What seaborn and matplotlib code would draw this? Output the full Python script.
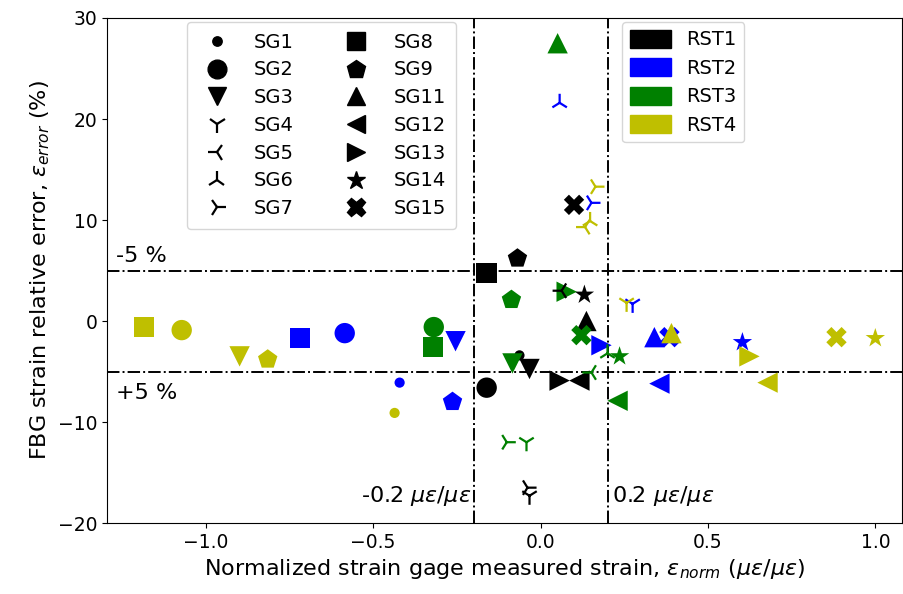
import matplotlib
matplotlib.use("Agg")
import matplotlib.pyplot as plt
from matplotlib.lines import Line2D
from matplotlib.patches import Patch
import seaborn as sns
import pandas as pd

plt.rcParams["font.family"] = ["DejaVu Sans"]
plt.rcParams["mathtext.fontset"] = "dejavusans"

# ---- data ----
rst1_sg = ["SG1", "SG2", "SG3", "SG4", "SG5", "SG7", "SG8", "SG9", "SG11", "SG12", "SG13", "SG14", "SG15"]
rst1_x = [-0.063, -0.161, -0.033, -0.033, 0.063, -0.039, -0.161, -0.069, 0.137, 0.116, 0.057, 0.131, 0.100]
rst1_y = [-3.4, -6.6, -4.75, -17.3, 3.0, -16.5, 4.75, 6.2, 0.0, -5.9, -5.9, 2.6, 11.5]

rst2_sg = ["SG1", "SG2", "SG3", "SG4", "SG6", "SG7", "SG8", "SG9", "SG11", "SG12", "SG13", "SG14", "SG15"]
rst2_x = [-0.421, -0.585, -0.254, 0.275, 0.057, 0.152, -0.719, -0.263, 0.340, 0.355, 0.182, 0.603, 0.385]
rst2_y = [-6.1, -1.2, -2.0, 1.7, 21.6, 11.7, -1.7, -8.0, -1.6, -6.2, -2.4, -2.1, -1.6]

rst3_sg = ["SG2", "SG3", "SG4", "SG5", "SG6", "SG7", "SG8", "SG9", "SG11", "SG12", "SG13", "SG14", "SG15"]
rst3_x = [-0.319, -0.084, -0.042, 0.152, 0.200, -0.101, -0.322, -0.087, 0.051, 0.230, 0.078, 0.236, 0.122]
rst3_y = [-0.6, -4.2, -12.0, -5.1, -3.2, -12.0, -2.6, 2.1, 27.5, -7.9, 2.9, -3.5, -1.4]

rst4_sg = ["SG1", "SG2", "SG3", "SG4", "SG5", "SG6", "SG7", "SG8", "SG9", "SG11", "SG12", "SG13", "SG14", "SG15"]
rst4_x = [-0.436, -1.072, -0.899, 0.257, 0.133, 0.148, 0.164, -1.185, -0.815, 0.391, 0.678, 0.624, 1.000, 0.884]
rst4_y = [-9.1, -0.9, -3.5, 1.8, 9.3, 9.9, 13.3, -0.6, -3.8, -1.2, -6.1, -3.5, -1.7, -1.6]

rst_names = ["RST1", "RST2", "RST3", "RST4"]
rst_colors = ["#000000", "#0000ff", "#008000", "#bfbf00"]
sg_names = ["SG1", "SG2", "SG3", "SG4", "SG5", "SG6", "SG7",
            "SG8", "SG9", "SG11", "SG12", "SG13", "SG14", "SG15"]
sg_markers = [".", "o", "v", "1", "3", "2", "4", "s", "p", "^", "<", ">", "*", "X"]
line_markers = {"1", "2", "3", "4"}

frames = []
for name, sgs, xs, ys in [("RST1", rst1_sg, rst1_x, rst1_y),
                          ("RST2", rst2_sg, rst2_x, rst2_y),
                          ("RST3", rst3_sg, rst3_x, rst3_y),
                          ("RST4", rst4_sg, rst4_x, rst4_y)]:
    frames.append(pd.DataFrame({"RST": name, "SG": sgs, "x": xs, "y": ys}))
df = pd.concat(frames, ignore_index=True)

marker_map = dict(zip(sg_names, sg_markers))
palette = dict(zip(rst_names, rst_colors))
df["line"] = df["SG"].map(lambda s: marker_map[s] in line_markers)

fig = plt.figure(figsize=(9.04, 5.94), dpi=100)
ax = fig.add_axes([0.1184, 0.1195, 0.8795, 0.8502])

filled = df[~df["line"]]
lines = df[df["line"]]
sns.scatterplot(data=filled, x="x", y="y", hue="RST", style="SG",
                palette=palette, hue_order=rst_names,
                markers={k: v for k, v in marker_map.items() if v not in line_markers},
                style_order=[s for s in sg_names if marker_map[s] not in line_markers],
                s=215, linewidth=0, legend=False, ax=ax, zorder=3)
sns.scatterplot(data=lines, x="x", y="y", hue="RST", style="SG",
                palette=palette, hue_order=rst_names,
                markers={k: v for k, v in marker_map.items() if v in line_markers},
                style_order=[s for s in sg_names if marker_map[s] in line_markers],
                s=170, linewidth=1.6, legend=False, ax=ax, zorder=3)

# reference lines
for yv in [5, -5]:
    ax.axhline(yv, color="k", ls="-.", lw=1.4, zorder=2)
for xv in [-0.2, 0.2]:
    ax.axvline(xv, color="k", ls="-.", lw=1.4, zorder=2)

ax.text(-1.268, 5.4, "-5 %", fontsize=16, ha="left", va="bottom")
ax.text(-1.268, -6.1, "+5 %", fontsize=16, ha="left", va="top")
ax.text(-0.208, -17.3, r"-0.2 $\mu\epsilon/\mu\epsilon$", fontsize=16, ha="right", va="center")
ax.text(0.212, -17.3, r"0.2 $\mu\epsilon/\mu\epsilon$", fontsize=16, ha="left", va="center")

ax.set_xlim(-1.295, 1.08)
ax.set_ylim(-20, 30)
ax.set_xticks([-1.0, -0.5, 0.0, 0.5, 1.0])
ax.set_yticks([-20, -10, 0, 10, 20, 30])
ax.tick_params(labelsize=13.5)
ax.set_xlabel(r"Normalized strain gage measured strain, $\epsilon_{norm}$ ($\mu\epsilon/\mu\epsilon$)", fontsize=16)
ax.set_ylabel(r"FBG strain relative error, $\epsilon_{error}$ (%)", fontsize=16)

# legends
sg_handles = [Line2D([], [], marker=m, color="k", ls="none", markersize=13.5,
                     markeredgewidth=1.6 if m in line_markers else 1.0)
              for m in sg_markers]
leg1 = ax.legend(sg_handles, sg_names, ncol=2, loc="upper left",
                 bbox_to_anchor=(0.1006, 0.992), borderaxespad=0, fontsize=14,
                 labelspacing=0.45, borderpad=0.55, handletextpad=0.9, columnspacing=2.2,
                 framealpha=0.8)
ax.add_artist(leg1)
rst_handles = [Patch(facecolor=c, edgecolor=c) for c in rst_colors]
ax.legend(rst_handles, rst_names, loc="upper left", bbox_to_anchor=(0.648, 0.992),
          borderaxespad=0, fontsize=14, handlelength=2.1, handleheight=1.05,
          labelspacing=0.45, framealpha=0.8)

fig.savefig("out.png", dpi=100)
